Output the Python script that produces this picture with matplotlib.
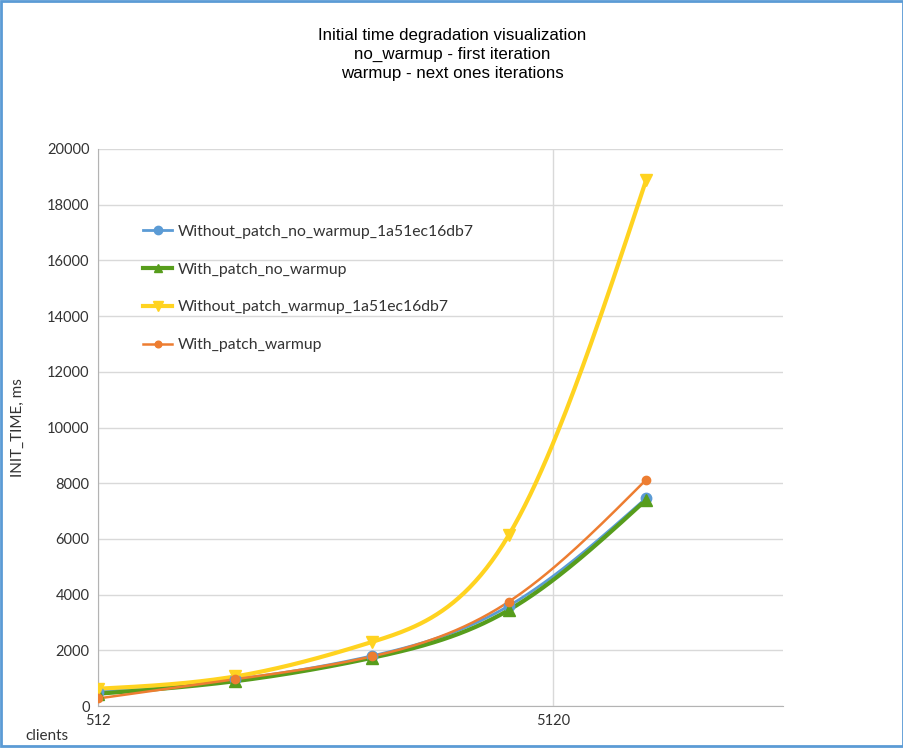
import numpy as np
import matplotlib.pyplot as plt
from matplotlib.patches import Rectangle

# data
clients = [512, 1024, 2048, 4096, 8192]
without_patch_no_warmup = [510, 960, 1800, 3600, 7460]
with_patch_no_warmup = [440, 890, 1730, 3450, 7400]
without_patch_warmup = [620, 1060, 2300, 6150, 18870]
with_patch_warmup = [270, 960, 1780, 3750, 8120]

series = [
    ("Without_patch_no_warmup_1a51ec16db7", without_patch_no_warmup, '#5b9bd5', 'o', 2.0, 7.5),
    ("With_patch_no_warmup", with_patch_no_warmup, '#579d1c', '^', 3.0, 8),
    ("Without_patch_warmup_1a51ec16db7", without_patch_warmup, '#ffd320', 'v', 3.0, 8.5),
    ("With_patch_warmup", with_patch_warmup, '#ed7d31', 'o', 1.8, 6),
]


def spline(xs, ys, num=200):
    # natural cubic spline, only used to draw the smooth line between the points
    xs = np.asarray(xs, float)
    ys = np.asarray(ys, float)
    n = len(xs)
    h = np.diff(xs)
    A = np.zeros((n, n))
    b = np.zeros(n)
    A[0, 0] = 1
    A[-1, -1] = 1
    for i in range(1, n - 1):
        A[i, i - 1] = h[i - 1]
        A[i, i] = 2 * (h[i - 1] + h[i])
        A[i, i + 1] = h[i]
        b[i] = 6 * ((ys[i + 1] - ys[i]) / h[i] - (ys[i] - ys[i - 1]) / h[i - 1])
    M = np.linalg.solve(A, b)
    xx = np.linspace(xs[0], xs[-1], num)
    yy = np.zeros_like(xx)
    for k, t in enumerate(xx):
        i = min(np.searchsorted(xs, t, side='right') - 1, n - 2)
        a = xs[i + 1] - t
        c = t - xs[i]
        yy[k] = (M[i] * a ** 3 + M[i + 1] * c ** 3) / (6 * h[i]) \
            + (ys[i] / h[i] - M[i] * h[i] / 6) * a \
            + (ys[i + 1] / h[i] - M[i + 1] * h[i] / 6) * c
    return xx, yy


fig = plt.figure(figsize=(9.04, 7.53), dpi=100)
ax = fig.add_axes([98 / 904, 1 - 706 / 753, (783 - 98) / 904, (706 - 149) / 753])

lx = np.log2(clients)
for name, vals, col, mk, lw, ms in series:
    xx, yy = spline(lx, vals)
    ax.plot(2 ** xx, yy, color=col, linewidth=lw, zorder=3)
    ax.plot(clients, vals, linestyle='none', marker=mk, color=col, markersize=ms, zorder=4)
    ax.plot([], [], color=col, linewidth=lw, marker=mk, markersize=ms * 0.8, label=name)

ax.set_xscale('log')
ax.set_xlim(512, 16384)
ax.set_ylim(0, 20000)
ax.set_xticks([512, 5120])
ax.set_xticklabels(['512', '5120'])
ax.minorticks_off()
ax.set_yticks(np.arange(0, 20001, 2000))
ax.grid(True, color='#d9d9d9', linewidth=1)
ax.set_axisbelow(True)
for s in ['top', 'right']:
    ax.spines[s].set_visible(False)
for s in ['left', 'bottom']:
    ax.spines[s].set_color('#b3b3b3')
ax.tick_params(length=0, labelsize=10.5, labelcolor='#333333', pad=6)
for lab in ax.get_xticklabels() + ax.get_yticklabels():
    lab.set_family('Lato')

leg = ax.legend(loc='upper left', bbox_to_anchor=(0.0657, 0.864), frameon=False,
                borderpad=0, borderaxespad=0, labelspacing=1.52, handlelength=1.85,
                handletextpad=0.35, prop={'family': 'Lato', 'size': 11.3})
for t in leg.get_texts():
    t.set_color('#333333')

fig.text(452 / 904, 1 - 28 / 753, "Initial time degradation visualization\nno_warmup - first iteration\nwarmup - next ones iterations",
         ha='center', va='top', fontsize=12.2, family='Liberation Sans', linespacing=1.32)
fig.text(18 / 904, 1 - 428 / 753, "INIT_TIME, ms", rotation=90, ha='center', va='center',
         fontsize=11, family='Lato', color='#333333')
fig.text(25 / 904, 1 - 736 / 753, "clients", ha='left', va='center',
         fontsize=11, family='Lato', color='#333333')

fig.patches.append(Rectangle((0.5 / 904, 1 - 745.5 / 753), 902.5 / 904, 745 / 753,
                             transform=fig.transFigure, fill=False, edgecolor='#5b9bd5', linewidth=2))

fig.savefig('out.png', dpi=100)
